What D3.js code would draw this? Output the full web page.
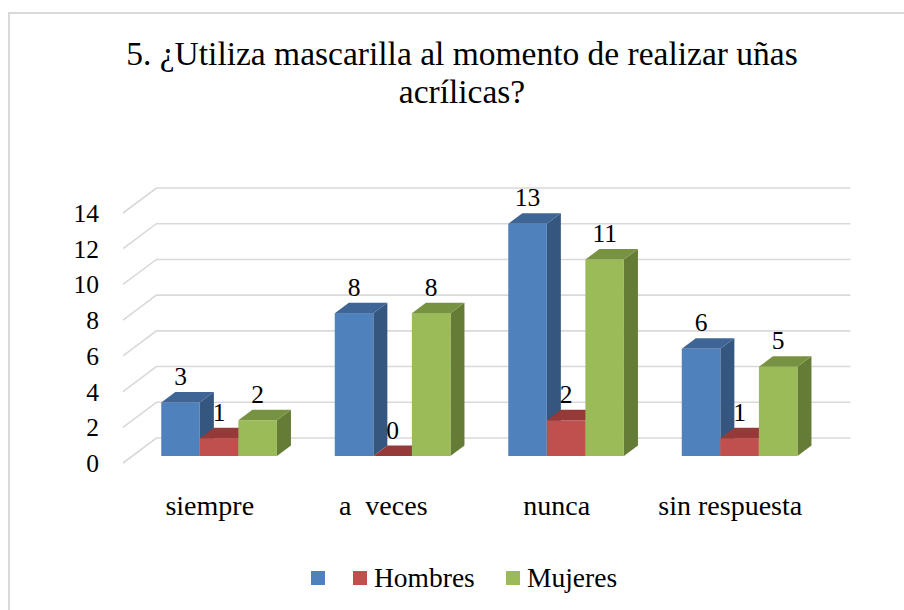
<!DOCTYPE html>
<html>
<head>
<meta charset="utf-8">
<script src="https://cdn.jsdelivr.net/npm/d3@7"></script>
<style>
  body { margin: 0; background: #fff; }
</style>
</head>
<body>
<script>
// data
var categories = ["siempre", "a  veces", "nunca", "sin respuesta"];
var seriesNames = ["", "Hombres", "Mujeres"];
var blueValues = [3, 8, 13, 6];
var hombresValues = [1, 0, 2, 1];
var mujeresValues = [2, 8, 11, 5];
var yTicks = [0, 2, 4, 6, 8, 10, 12, 14];

var seriesValues = [blueValues, hombresValues, mujeresValues];
var colors = [
  {front: "#4f81bd", top: "#3e6596", side: "#34567f"},
  {front: "#c0504d", top: "#953a38", side: "#803330"},
  {front: "#9bbb59", top: "#779341", side: "#657c37"}
];

var FONT = "Liberation Serif";
var W = 904, H = 610;
var DX = 33.4, DY = 25;   // oblique depth offset of the plot box
var z0 = 0.28, z1 = 0.70; // depth span of the bars

var svg = d3.select("body").append("svg")
    .attr("width", W)
    .attr("height", H);

// chart border
svg.append("rect")
    .attr("x", 9).attr("y", 13)
    .attr("width", 920).attr("height", 620)
    .attr("fill", "none")
    .attr("stroke", "#d9d9d9")
    .attr("stroke-width", 2);

// scales on the front plane
var x = d3.scaleBand().domain(categories).range([123, 817]);
var x1 = d3.scaleBand().domain(d3.range(3)).range([0, x.bandwidth() * 3 / 4.5]);
var y = d3.scaleLinear().domain([0, 14]).range([463, 213]);

// gridlines: side wall diagonal + back wall
var grid = svg.append("g");
yTicks.forEach(function(t) {
  var yf = y(t);
  grid.append("path")
    .attr("d", "M" + x.range()[0] + "," + yf +
               "L" + (x.range()[0] + DX) + "," + (yf - DY) +
               "L" + (x.range()[1] + DX) + "," + (yf - DY))
    .attr("fill", "none")
    .attr("stroke", "#d9d9d9")
    .attr("stroke-width", 1.6);
});

// y tick labels
svg.append("g").selectAll("text")
    .data(yTicks)
  .enter().append("text")
    .attr("x", 99)
    .attr("y", function(d) { return y(d) + 9; })
    .attr("text-anchor", "end")
    .attr("font-family", FONT)
    .attr("font-size", 25.5)
    .text(function(d) { return d; });

// bars
var bars = svg.append("g");
var labels = svg.append("g");
categories.forEach(function(c, ci) {
  var groupLeft = x(c) + (x.bandwidth() - x1.range()[1]) / 2;
  seriesValues.forEach(function(vals, si) {
    var v = vals[ci];
    var col = colors[si];
    var xl = groupLeft + x1(si) + z0 * DX;
    var xr = xl + x1.bandwidth();
    var yb = y(0) - z0 * DY;
    var yt = y(v) - z0 * DY;
    var ddx = (z1 - z0) * DX, ddy = (z1 - z0) * DY;
    var g = bars.append("g");
    // side
    g.append("path")
      .attr("d", "M" + xr + "," + yt + "L" + (xr + ddx) + "," + (yt - ddy) +
                 "L" + (xr + ddx) + "," + (yb - ddy) + "L" + xr + "," + yb + "Z")
      .attr("fill", col.side);
    // front
    if (v > 0) {
      g.append("rect")
        .attr("x", xl).attr("y", yt)
        .attr("width", xr - xl).attr("height", yb - yt)
        .attr("fill", col.front);
    }
    // top
    g.append("path")
      .attr("d", "M" + xl + "," + yt + "L" + xr + "," + yt +
                 "L" + (xr + ddx) + "," + (yt - ddy) + "L" + (xl + ddx) + "," + (yt - ddy) + "Z")
      .attr("fill", col.top);
    labels.append("text")
      .attr("x", (xl + xr) / 2)
      .attr("y", yt - ddy - 7)
      .attr("text-anchor", "middle")
      .attr("font-family", FONT)
      .attr("font-size", 25.5)
      .text(v);
  });
});

// category labels
svg.append("g").selectAll("text")
    .data(categories)
  .enter().append("text")
    .attr("x", function(d) { return x(d) + x.bandwidth() / 2; })
    .attr("y", 515)
    .attr("text-anchor", "middle")
    .attr("font-family", FONT)
    .attr("font-size", 28)
    .attr("xml:space", "preserve")
    .style("white-space", "pre")
    .text(function(d) { return d; });

// title
var title = svg.append("text")
    .attr("text-anchor", "middle")
    .attr("font-family", FONT)
    .attr("font-size", 33.5);
title.append("tspan").attr("x", 462).attr("y", 65).text("5. ¿Utiliza mascarilla al momento de realizar uñas");
title.append("tspan").attr("x", 462).attr("y", 103).text("acrílicas?");

// legend
var legendX = [311, 353, 506];
var legend = svg.append("g");
seriesNames.forEach(function(name, i) {
  legend.append("rect")
    .attr("x", legendX[i]).attr("y", 571)
    .attr("width", 14).attr("height", 14)
    .attr("fill", colors[i].front);
  legend.append("text")
    .attr("x", legendX[i] + 21)
    .attr("y", 587)
    .attr("font-family", FONT)
    .attr("font-size", 27.5)
    .text(name);
});
</script>
</body>
</html>
